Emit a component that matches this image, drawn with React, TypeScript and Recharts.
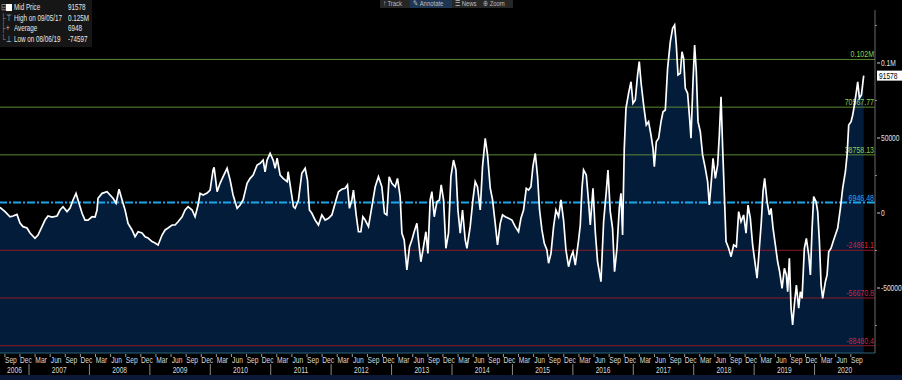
import React from 'react';
import { ComposedChart, Area, Line, XAxis, YAxis, ReferenceLine } from 'recharts';

// ---- data (decimal year, mid price) ----
const dates = [
  2006.520, 2006.603, 2006.686, 2006.735, 2006.801, 2006.851, 2006.901, 2006.967, 2007.017, 2007.099,
  2007.149, 2007.215, 2007.265, 2007.315, 2007.381, 2007.464, 2007.513, 2007.563, 2007.629, 2007.679,
  2007.729, 2007.778, 2007.811, 2007.878, 2007.927, 2007.977, 2008.043, 2008.093, 2008.126, 2008.142,
  2008.209, 2008.291, 2008.341, 2008.391, 2008.441, 2008.490, 2008.540, 2008.590, 2008.639, 2008.705,
  2008.755, 2008.805, 2008.871, 2008.921, 2008.970, 2009.036, 2009.086, 2009.136, 2009.202, 2009.252,
  2009.301, 2009.368, 2009.417, 2009.467, 2009.533, 2009.583, 2009.633, 2009.699, 2009.748, 2009.798,
  2009.831, 2009.881, 2009.947, 2009.997, 2010.046, 2010.063, 2010.113, 2010.162, 2010.212, 2010.278,
  2010.328, 2010.377, 2010.444, 2010.493, 2010.543, 2010.609, 2010.659, 2010.709, 2010.775, 2010.825,
  2010.874, 2010.907, 2010.940, 2010.990, 2011.040, 2011.073, 2011.106, 2011.156, 2011.205, 2011.272,
  2011.288, 2011.321, 2011.376, 2011.404, 2011.459, 2011.515, 2011.570, 2011.608, 2011.641, 2011.681,
  2011.735, 2011.790, 2011.846, 2011.901, 2011.956, 2012.012, 2012.066, 2012.121, 2012.177, 2012.232,
  2012.270, 2012.303, 2012.343, 2012.369, 2012.414, 2012.452, 2012.492, 2012.525, 2012.563, 2012.618,
  2012.674, 2012.729, 2012.783, 2012.839, 2012.883, 2012.922, 2012.960, 2013.005, 2013.060, 2013.098,
  2013.142, 2013.171, 2013.209, 2013.253, 2013.297, 2013.336, 2013.374, 2013.419, 2013.445, 2013.485,
  2013.528, 2013.568, 2013.601, 2013.639, 2013.667, 2013.706, 2013.750, 2013.793, 2013.821, 2013.860,
  2013.899, 2013.942, 2013.982, 2014.025, 2014.065, 2014.098, 2014.136, 2014.174, 2014.219, 2014.247,
  2014.301, 2014.346, 2014.384, 2014.422, 2014.467, 2014.505, 2014.550, 2014.588, 2014.633, 2014.671,
  2014.715, 2014.753, 2014.798, 2014.836, 2014.881, 2014.935, 2014.992, 2015.046, 2015.101, 2015.141,
  2015.184, 2015.229, 2015.267, 2015.306, 2015.339, 2015.378, 2015.416, 2015.449, 2015.488, 2015.527,
  2015.571, 2015.598, 2015.638, 2015.681, 2015.720, 2015.764, 2015.803, 2015.846, 2015.886, 2015.929,
  2015.969, 2016.002, 2016.040, 2016.095, 2016.123, 2016.151, 2016.177, 2016.222, 2016.260, 2016.288,
  2016.333, 2016.371, 2016.409, 2016.465, 2016.509, 2016.553, 2016.581, 2016.619, 2016.657, 2016.690,
  2016.730, 2016.768, 2016.796, 2016.823, 2016.851, 2016.879, 2016.922, 2016.962, 2016.995, 2017.033,
  2017.071, 2017.099, 2017.127, 2017.171, 2017.215, 2017.253, 2017.293, 2017.326, 2017.348, 2017.381,
  2017.419, 2017.459, 2017.492, 2017.530, 2017.568, 2017.613, 2017.651, 2017.684, 2017.712, 2017.740,
  2017.778, 2017.806, 2017.833, 2017.861, 2017.899, 2017.932, 2017.955, 2017.988, 2018.015, 2018.043,
  2018.071, 2018.109, 2018.147, 2018.192, 2018.230, 2018.258, 2018.291, 2018.320, 2018.358, 2018.396,
  2018.424, 2018.452, 2018.479, 2018.507, 2018.535, 2018.578, 2018.618, 2018.661, 2018.706, 2018.744,
  2018.783, 2018.826, 2018.866, 2018.899, 2018.937, 2018.975, 2019.020, 2019.048, 2019.086, 2019.119,
  2019.147, 2019.174, 2019.214, 2019.252, 2019.280, 2019.313, 2019.351, 2019.389, 2019.422, 2019.462,
  2019.500, 2019.533, 2019.555, 2019.583, 2019.611, 2019.637, 2019.665, 2019.699, 2019.737, 2019.765,
  2019.793, 2019.831, 2019.864, 2019.903, 2019.931, 2019.959, 2019.985, 2020.025, 2020.052, 2020.080,
  2020.108, 2020.134, 2020.179, 2020.207, 2020.234, 2020.273, 2020.306, 2020.344, 2020.382, 2020.427,
  2020.465, 2020.510, 2020.538, 2020.565, 2020.604, 2020.631, 2020.659, 2020.692, 2020.714, 2020.742,
  2020.775, 2020.813,
];

const values = [
  3800, 900, -2500, -2000, -900, -6700, -9100, -10000, -13300, -16900,
  -14700, -9100, -4700, -2000, -2700, -2000, 2000, 4200, 900, 3300,
  8700, 13100, 8700, -200, -4700, -4700, -2500, -2700, 2000, 9800,
  13100, 14200, 12000, 9800, 6500, 15800, 8700, 2000, -6900, -11300,
  -15800, -12500, -13300, -15800, -16700, -19100, -20000, -21300, -14700, -11300,
  -10000, -8000, -8000, -5800, -2500, 2000, 4200, 2000, -2500, 5300,
  13100, 12000, 13300, 15300, 28700, 30500, 14200, 19800, 24200, 29800,
  22000, 12000, 3100, 5300, 8700, 19800, 23100, 25300, 32000, 33100,
  35300, 27500, 35300, 39800, 35300, 29800, 36500, 25300, 23100, 20900,
  27500, 18700, 4200, 3100, 8700, 26500, 29800, 22000, 2000, -200,
  -4700, -8000, -1300, -4700, -3500, -1300, 6500, 14200, 15800, 16500,
  18700, 3100, 8700, 15300, -1300, -12500, -12500, -2500, -4700, -9100,
  4200, 17500, 24200, 17500, -200, -1300, 24200, 19800, 17500, 23100,
  10900, -13500, -18000, -38000, -22500, -18000, -12500, -6900, -18000, -32500,
  -22500, -12500, -26900, 8700, 14200, -2500, 7500, 8700, 18700, 8700,
  -23500, -13500, 24200, 35300, 28700, 2000, -13500, 2000, -18000, -23500,
  -9100, 8700, 20900, 17500, 2000, 30900, 49800, 38700, 16500, 8700,
  -6900, -21300, -6900, -1300, -2500, -3500, -4700, -9100, -12500, -3500,
  2000, 16500, 15300, 17500, 30900, 39800, 24200, 2000, -11300, -20200,
  -24700, -33500, -26900, -9100, 2000, -2500, 8700, -4700, -24700, -35800,
  -29100, -25800, -34700, -18000, -8000, 16500, 28700, 25300, 7500, -8000,
  16500, -12500, -32500, -45800, -5800, 14200, 28700, 900, -10200, -39100,
  -23500, 3100, 13100, -14700, 43100, 69800, 79800, 87500, 73100, 75300,
  92000, 100900, 87500, 72000, 58700, 60900, 52000, 43100, 30900, 47500,
  49800, 60900, 67500, 68700, 96500, 114200, 123100, 125300, 112000, 92000,
  93100, 107500, 103100, 83100, 79800, 63100, 49800, 87500, 112000, 94200,
  60900, 54200, 38700, 29800, 20900, 5300, 20900, 36500, 23100, 32000,
  52000, 77500, 43100, 12000, -19100, -23500, -29100, -21300, -22500, 900,
  -5800, -1300, -13500, 5300, -3500, -21300, -34700, -43500, -23500, -5800,
  14200, 23100, 7500, -1300, 3100, -10200, -21300, -32500, -39100, -50200,
  -36900, -41300, -52500, -30200, -63500, -74597, -61300, -48000, -63500, -52500,
  -56900, -23500, -16900, -28000, -41300, -10200, 10900, 7500, 900, -19100,
  -48000, -56900, -45800, -41300, -25800, -23500, -19100, -14700, -10200, 3100,
  16500, 27500, 38700, 58700, 60900, 65300, 72000, 80900, 87500, 76500,
  78700, 91578,
];

const data = dates.map((t, i) => ({ t, v: values[i] }));

// ---- statistics bands (value, label, colour kind) ----
const bandValues = [102380, 70567.77, 38758.13, 6946.48, -24861.1, -56670.8, -88480.4];
const bandLabels = ['0.102M', '70567.77', '38758.13', '6946.48', '-24861.1', '-56670.8', '-88480.4'];
const bandKinds = ['g', 'g', 'g', 'avg', 'r', 'r', 'r'];

const lastPrice = 91578;

// ---- axes ----
const X_MIN = 2006.52;
const X_MAX = 2021.0;
const Y_MIN = -93333;
const Y_MAX = 135333;

const quarterNames = ['Mar', 'Jun', 'Sep', 'Dec'];
const quarterMonths = [3, 6, 9, 12];
const years = [2006, 2007, 2008, 2009, 2010, 2011, 2012, 2013, 2014, 2015, 2016, 2017, 2018, 2019, 2020];
const LAST_MONTH_TICK = 2020.7;

const yTickValues = [-75000, -50000, -25000, 0, 25000, 50000, 75000, 100000, 125000];
const yTickLabels: Record<string, string> = { '-50000': '-50000', '0': '0', '50000': '50000', '100000': '0.1M' };

const FONT = "'Liberation Sans', Arial, sans-serif";
const SQ = 0.74; // horizontal squeeze to mimic the terminal's narrow font

type TickInfo = { kind: 'month' | 'sep' | 'year'; label: string };
const tickInfo = new Map<string, TickInfo>();
const keyOf = (v: number) => v.toFixed(4);
const xTicks: number[] = [];
years.forEach((y) => {
  quarterMonths.forEach((m, qi) => {
    const t = y + (m - 1) / 12;
    if (t >= X_MIN && t <= LAST_MONTH_TICK) {
      xTicks.push(t);
      tickInfo.set(keyOf(t), { kind: 'month', label: quarterNames[qi] });
    }
  });
  if (y > X_MIN && y < X_MAX) {
    xTicks.push(y);
    tickInfo.set(keyOf(y), { kind: 'sep', label: '' });
  }
  const c = (Math.max(y, X_MIN) + Math.min(y + 1, X_MAX)) / 2;
  xTicks.push(c);
  tickInfo.set(keyOf(c), { kind: 'year', label: String(y) });
});
xTicks.sort((a, b) => a - b);

const NText = (p: { x: number; y: number; anchor?: string; fill: string; size: number; children: any }) => (
  <text
    transform={`translate(${p.x},${p.y}) scale(${SQ},1)`}
    x={0}
    y={0}
    textAnchor={p.anchor || 'start'}
    fill={p.fill}
    fontSize={p.size}
    fontFamily={FONT}
  >
    {p.children}
  </text>
);

const XTick = (props: any) => {
  const { x, payload } = props;
  const info = tickInfo.get(keyOf(payload.value));
  if (!info) return null;
  if (info.kind === 'month') {
    return (
      <g>
        <line x1={x - 4} x2={x - 4} y1={354} y2={357} stroke="#9a9a9a" strokeWidth={1} />
        <NText x={x + 2} y={363} anchor="middle" fill="#d8d8d8" size={9}>
          {info.label}
        </NText>
      </g>
    );
  }
  if (info.kind === 'sep') {
    return <line x1={x} x2={x} y1={364} y2={375} stroke="#8a8a8a" strokeWidth={1} />;
  }
  return (
    <NText x={x} y={373} anchor="middle" fill="#d8d8d8" size={9}>
      {info.label}
    </NText>
  );
};

const YTick = (props: any) => {
  const { x, y, payload } = props;
  const lab = yTickLabels[String(payload.value)];
  if (!lab) {
    return <line x1={x} x2={x + 2} y1={y} y2={y} stroke="#8a8a8a" strokeWidth={1} />;
  }
  return (
    <g>
      <line x1={x + 2} x2={x + 5} y1={y} y2={y} stroke="#d0d0d0" strokeWidth={1} />
      <NText x={x + 6} y={y + 3} fill="#e0e0e0" size={9}>
        {lab}
      </NText>
    </g>
  );
};

const colours: Record<string, { line: string; text: string; width: number; dash?: string }> = {
  g: { line: '#5a8a34', text: '#8fd04a', width: 1 },
  avg: { line: '#1ea6ea', text: '#2aa8e4', width: 2, dash: '8 2 2 2' },
  r: { line: '#8c1a28', text: '#d6203e', width: 1 },
};

const BandLabel = (text: string, colour: string) => (props: any) => {
  const vb = props.viewBox || {};
  return (
    <NText x={vb.x + vb.width - 1} y={vb.y - 2} anchor="end" fill={colour} size={9.5}>
      {text}
    </NText>
  );
};

const LastLabel = (props: any) => {
  const vb = props.viewBox || {};
  const x0 = vb.x + vb.width + 2;
  return (
    <g>
      <rect x={x0} y={vb.y - 5} width={25} height={10} fill="#ffffff" />
      <NText x={x0 + 2} y={vb.y + 3} fill="#000" size={9}>
        {String(lastPrice)}
      </NText>
    </g>
  );
};

const legendRows = [
  { tree: '⊟', icon: 'box', name: 'Mid Price', value: '91578' },
  { tree: '├', icon: '⊤', name: 'High on 09/05/17', value: '0.125M' },
  { tree: '├', icon: '+', name: 'Average', value: '6948' },
  { tree: '└', icon: '⊥', name: 'Low on 08/06/19', value: '-74597' },
];

const toolbarItems = [
  { icon: '↑', label: 'Track', active: false },
  { icon: '✎', label: 'Annotate', active: true },
  { icon: '☰', label: 'News', active: false },
  { icon: '⊕', label: 'Zoom', active: false },
];

const squeeze: React.CSSProperties = { display: 'inline-block', transform: `scaleX(${SQ})`, transformOrigin: 'left center' };

export default function App() {
  return (
    <div style={{ position: 'absolute', left: 0, top: 0, width: 902, height: 380, background: '#000', overflow: 'hidden' }}>
      <ComposedChart width={902} height={380} data={data} margin={{ top: 10, right: 0, left: 0, bottom: 0 }}>
        <XAxis
          xAxisId="m"
          dataKey="t"
          type="number"
          domain={[X_MIN, X_MAX]}
          allowDataOverflow
          ticks={xTicks}
          interval={0}
          tick={<XTick />}
          tickLine={false}
          axisLine={{ stroke: '#2c6278', strokeWidth: 1 }}
          height={27}
        />
        <YAxis
          yAxisId="r"
          orientation="right"
          type="number"
          domain={[Y_MIN, Y_MAX]}
          allowDataOverflow
          ticks={yTickValues}
          interval={0}
          tick={<YTick />}
          tickLine={false}
          tickSize={0}
          tickMargin={0}
          axisLine={{ stroke: '#6a6a6a', strokeWidth: 1 }}
          width={27}
        />
        <Area
          xAxisId="m"
          yAxisId="r"
          dataKey="v"
          type="linear"
          stroke="none"
          fill="#031c3a"
          fillOpacity={1}
          baseValue="dataMin"
          isAnimationActive={false}
        />
        {bandValues.map((v, i) => {
          const c = colours[bandKinds[i]];
          return (
            <ReferenceLine
              key={i}
              xAxisId="m"
              yAxisId="r"
              y={v}
              stroke={c.line}
              strokeWidth={c.width}
              strokeDasharray={c.dash}
              label={BandLabel(bandLabels[i], c.text)}
            />
          );
        })}
        <ReferenceLine xAxisId="m" yAxisId="r" y={lastPrice} stroke="none" label={LastLabel} />
        <Line
          xAxisId="m"
          yAxisId="r"
          dataKey="v"
          type="linear"
          stroke="#ffffff"
          strokeWidth={1.7}
          dot={false}
          isAnimationActive={false}
        />
      </ComposedChart>

      {/* bottom strip */}
      <div style={{ position: 'absolute', left: 0, top: 375, width: 902, height: 5, background: '#0b1836' }} />

      {/* legend */}
      <div
        style={{
          position: 'absolute', left: 0, top: 0, width: 92, height: 47, background: '#161616',
          fontFamily: FONT, fontSize: 8.5, color: '#e8e8e8', lineHeight: '10.5px', paddingTop: 2, boxSizing: 'border-box',
        }}
      >
        {legendRows.map((r, i) => (
          <div key={i} style={{ position: 'relative', height: 10.5, whiteSpace: 'nowrap' }}>
            <span style={{ position: 'absolute', left: 1, color: '#9a9a9a' }}><span style={squeeze}>{r.tree}</span></span>
            {r.icon === 'box' ? (
              <span style={{ position: 'absolute', left: 6, top: 2, width: 6, height: 7, background: '#fff' }} />
            ) : (
              <span style={{ position: 'absolute', left: 6, color: '#cfcfcf' }}><span style={squeeze}>{r.icon}</span></span>
            )}
            <span style={{ position: 'absolute', left: 14 }}><span style={squeeze}>{r.name}</span></span>
            <span style={{ position: 'absolute', left: 68 }}><span style={squeeze}>{r.value}</span></span>
          </div>
        ))}
      </div>

      {/* toolbar */}
      <div
        style={{
          position: 'absolute', left: 380, top: 0, height: 8, display: 'flex', background: '#262626',
          fontFamily: FONT, fontSize: 8, color: '#bdbdbd', lineHeight: '8px',
        }}
      >
        {toolbarItems.map((it, i) => (
          <div
            key={i}
            style={{ width: [30, 42, 28, 33][i], paddingLeft: 3, boxSizing: 'border-box', background: it.active ? '#1e3654' : 'transparent', whiteSpace: 'nowrap', overflow: 'hidden' }}
          >
            <span style={squeeze}>
              <span style={{ marginRight: 2 }}>{it.icon}</span>
              {it.label}
            </span>
          </div>
        ))}
      </div>
    </div>
  );
}
